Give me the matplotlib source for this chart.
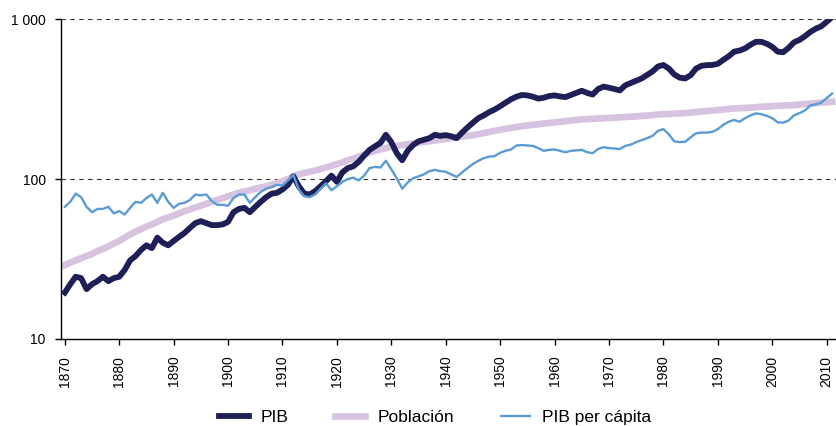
import numpy as np
import matplotlib
matplotlib.use("Agg")
import matplotlib.pyplot as plt
from matplotlib.ticker import FixedLocator, NullLocator

years = list(range(1870, 2012))

pib = [
    19.5, 22, 24.5, 24, 20.5, 22, 23, 24.5, 23, 24,
    24.5, 27, 31, 33, 36, 38.5, 37, 43, 40, 38.5,
    41, 43.5, 46, 49.5, 53, 54.5, 53, 51.5, 51.5, 52,
    54, 62, 65, 66, 62, 67, 72, 77, 81, 82,
    86, 92, 104, 90, 81, 80, 84, 90, 97, 105,
    96, 110, 117, 120, 128, 140, 152, 160, 168, 189,
    170, 145, 131, 150, 163, 172, 176, 180, 189, 186,
    188, 185, 180, 195, 210, 225, 240, 250, 262, 272,
    285, 300, 315, 327, 335, 333, 327, 318, 322, 330,
    333, 328, 325, 335, 345, 356, 345, 337, 365, 378,
    372, 365, 358, 385, 398, 412, 425, 447, 470, 505,
    516, 490, 450, 430, 425, 445, 490, 510, 515, 516,
    525, 555, 585, 625, 635, 655, 690, 720, 720, 700,
    670, 625, 620, 660, 715, 740, 780, 830, 870, 900,
    960, 1030,
]

poblacion = [
    29, 30, 31, 32, 33, 34, 35.5, 36.5, 38, 39.5,
    41, 43, 45, 47, 48.5, 50.5, 52, 54, 56, 57.5,
    59, 61, 63, 64.5, 66.5, 68, 70, 72, 74, 76,
    78, 80, 82, 83.5, 85, 87, 88.5, 90, 92, 94.5,
    97, 100, 104, 107, 109, 111, 113, 115.5, 118, 121,
    124, 127, 131, 134, 138, 142, 146, 150, 153, 156,
    159, 161, 163, 165, 167, 169, 171, 172, 174, 176,
    178, 180, 182, 184, 186, 188, 191, 194, 197, 200,
    203, 206, 209, 211, 214, 216, 218, 220, 222, 224,
    226, 228, 230, 232, 234, 236, 237, 238, 239, 240,
    241, 242, 243, 244, 245, 246, 248, 249, 251, 253,
    254, 255, 256, 257, 258, 260, 262, 264, 266, 268,
    270, 272, 274, 276, 277, 278, 279, 281, 283, 284,
    285, 287, 288, 289, 290, 292, 294, 296, 298, 300,
    302, 304,
]

pib_pc = [
    67, 72, 81, 77, 67, 62, 65, 65, 67, 61,
    63, 60, 66, 72, 71, 76, 80, 71, 82, 72,
    66, 70, 71, 74, 80, 79, 80, 73, 69, 69,
    68, 76, 80, 80, 71, 77, 83, 87, 89, 92,
    91, 98, 106, 86, 78, 77, 80, 87, 94, 85,
    90, 96, 100, 102, 98, 105, 117, 119, 118, 130,
    115, 101, 87, 95, 101, 104, 107, 112, 114, 112,
    111, 107, 103, 110, 117, 124, 130, 135, 138, 139,
    146, 150, 153, 162, 163, 162, 161, 156, 150, 152,
    153, 150, 147, 150, 151, 152, 147, 145, 154, 158,
    156, 155, 154, 161, 164, 170, 175, 180, 186, 200,
    205, 190, 172, 170, 171, 182, 193, 195, 195, 197,
    205, 218, 228, 234, 228, 240, 250, 257, 254, 248,
    240, 226, 225, 232, 250, 258, 268, 288, 293, 300,
    320, 342,
]

xticks = list(range(1870, 2011, 10))
yticks = [10, 100, 1000]
ytick_labels = ["10", "100", "1 000"]

plt.rcParams["font.family"] = ["Liberation Sans", "DejaVu Sans"]

fig = plt.figure(figsize=(8.37, 4.26), dpi=100)
ax = fig.add_axes([61 / 837, 87 / 426, 776 / 837, 320 / 426])

ax.plot(years, poblacion, color="#d7c2df", lw=4.8, label="Población", zorder=2)
ax.plot(years, pib, color="#1e1f56", lw=4.2, label="PIB", zorder=3)
ax.plot(years, pib_pc, color="#5b9bd5", lw=1.7, label="PIB per cápita", zorder=4)

ax.set_yscale("log")
ax.set_ylim(10, 1000)
ax.set_xlim(1869.3, 2011.9)
ax.yaxis.set_major_locator(FixedLocator(yticks))
ax.yaxis.set_minor_locator(NullLocator())
ax.set_yticklabels(ytick_labels, fontsize=10)
ax.set_xticks(xticks)
ax.set_xticklabels([str(x) for x in xticks], rotation=90, fontsize=10)

for y in [100, 1000]:
    ax.axhline(y, color="#333333", lw=0.8, dashes=(4, 4), zorder=1)

for s in ["top", "right"]:
    ax.spines[s].set_visible(False)
ax.spines["left"].set_linewidth(1.0)
ax.spines["bottom"].set_linewidth(1.0)
ax.tick_params(axis="both", direction="out", length=4, width=1.0, colors="black")
ax.tick_params(axis="y", pad=7)
ax.tick_params(axis="x", pad=8)

handles, labels = ax.get_legend_handles_labels()
order = [1, 0, 2]
fig.legend([handles[i] for i in order], [labels[i] for i in order],
           loc="center", bbox_to_anchor=(0.52, 0.021), ncol=3,
           frameon=False, fontsize=12.5, handlelength=1.7,
           handletextpad=0.7, columnspacing=2.7)

fig.savefig("out.png", dpi=100)
